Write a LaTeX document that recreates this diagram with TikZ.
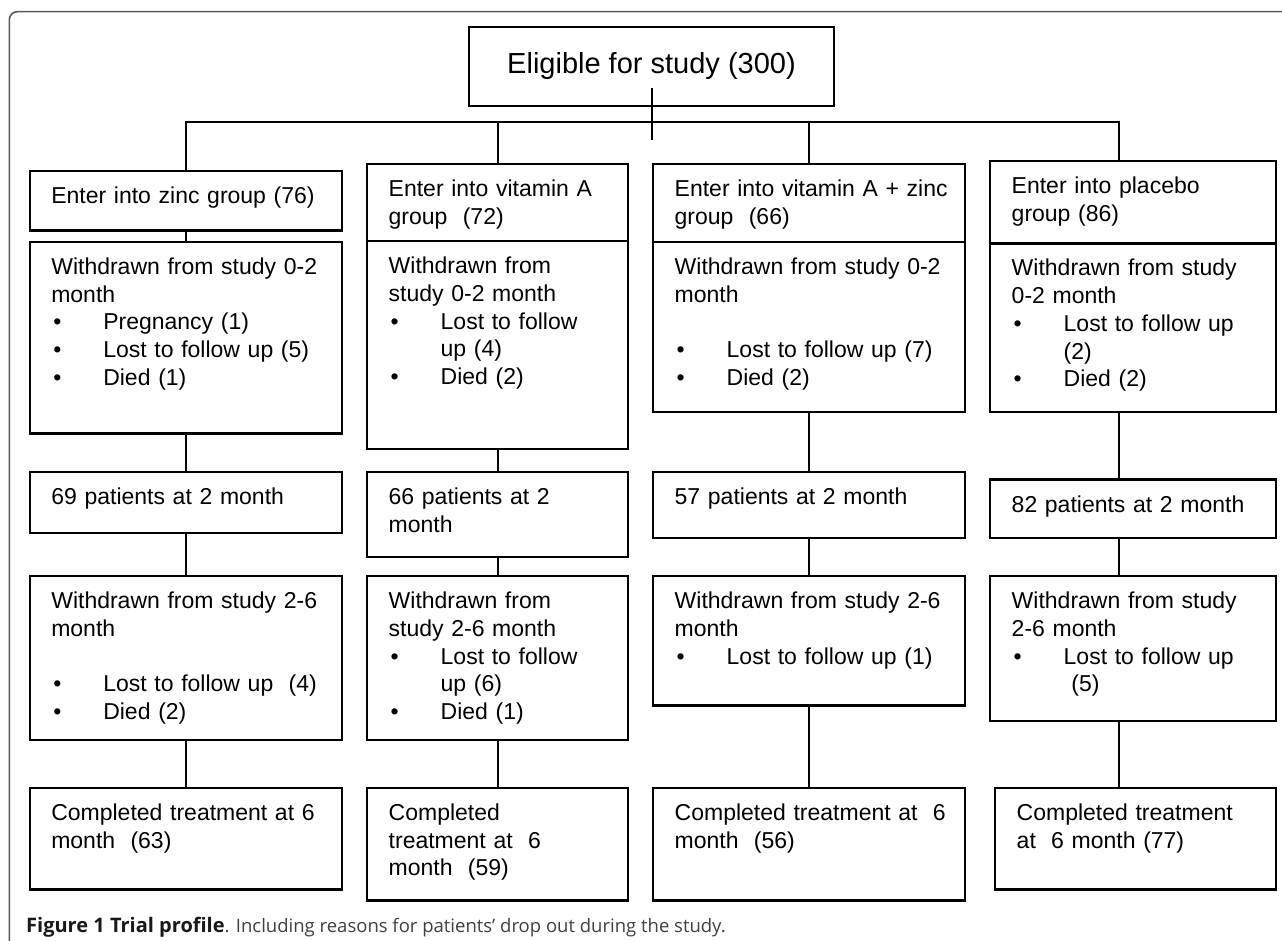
\documentclass[tikz,border=0pt]{standalone}
\usepackage{fontspec}
\setmainfont{Liberation Sans}
\newfontfamily\capfont{Open Sans}

\newcommand{\bul}{\makebox[52pt][l]{\hspace{2pt}\textbullet}}
\newcommand{\ind}{\hspace*{52pt}}

\begin{document}
\begin{tikzpicture}[x = 1pt, y = -1pt,
  every node/.style = {font = \fontsize{23}{27.7}\selectfont},
  cell/.style 2 args = {draw, line width = 2.4pt, anchor = north west, inner xsep = 21.5pt, inner ysep = 0pt,
    align = left, text width = #1, text height = 32.5pt, text depth = #2},
  link/.style = {line width = 2pt},
  frame/.style = {line width = 1.6pt, draw = black!65}]

  \useasboundingbox (0, 0) rectangle (1282, 941);

  % Frame
  \draw[frame, rounded corners = 8pt] (9.3, 941) |- (1282, 11.7);

  % Top box
  \node[draw, line width = 2.4pt, minimum width = 365pt, minimum height = 79pt, font = \fontsize{29}{34}\selectfont] (elig) at (651.5, 66.5) {Eligible for study (300)};
  \coordinate (stem) at (651.5, 140);
  \coordinate (pbr) at (1119, 121.7);

  % Zinc group
  \node[cell = {269.4pt}{26.8pt}] (z1) at (28.6, 170) {Enter into zinc group (76)};
  \node[cell = {269.4pt}{159.1pt}] (z2) at (28.6, 240.7) {Withdrawn from study 0-2\\ month\\ \bul Pregnancy (1)\\ \bul Lost to follow up (5)\\ \bul Died (1)};
  \node[cell = {269.4pt}{28.2pt}] (z3) at (28.6, 471) {69 patients at 2 month};
  \node[cell = {269.4pt}{131.5pt}] (z4) at (28.6, 575) {Withdrawn from study 2-6\\ month\\[27.7pt] \bul Lost to follow up~~(4)\\ \bul Died (2)};
  \node[cell = {269.4pt}{69.1pt}] (z5) at (28.6, 786.7) {Completed treatment at 6\\ month~~(63)};

  % Vitamin A group
  \node[cell = {218pt}{44.8pt}] (a1) at (366, 162.7) {Enter into vitamin A\\ group~~(72)};
  \node[cell = {218pt}{175.2pt}] (a2) at (366, 240) {Withdrawn from\\ study 0-2 month\\ \bul Lost to follow\\ \ind up (4)\\ \bul Died (2)};
  \node[cell = {218pt}{52.2pt}] (a3) at (366, 471) {66 patients at 2\\ month};
  \node[cell = {218pt}{131.5pt}] (a4) at (366, 575) {Withdrawn from\\ study 2-6 month\\ \bul Lost to follow\\ \ind up (6)\\ \bul Died (1)};
  \node[cell = {218pt}{80.1pt}] (a5) at (366, 786.7) {Completed\\ treatment at~~6\\ month~~(59)};

  % Vitamin A + zinc group
  \node[cell = {268.5pt}{45.5pt}] (c1) at (652, 162.7) {\mbox{Enter into vitamin A + zinc}\\ group~~(66)};
  \node[cell = {268.5pt}{137.5pt}] (c2) at (652, 240.7) {Withdrawn from study 0-2\\ month\\[27.7pt] \bul Lost to follow up (7)\\ \bul Died (2)};
  \node[cell = {268.5pt}{33.2pt}] (c3) at (652, 471) {57 patients at 2 month};
  \node[cell = {268.5pt}{96.8pt}] (c4) at (652, 575) {Withdrawn from study 2-6\\ month\\ \bul Lost to follow up (1)};
  \node[cell = {268.5pt}{80.1pt}] (c5) at (652, 786.7) {\mbox{Completed treatment at~~6}\\ month~~(56)};

  % Placebo group
  \node[cell = {242.7pt}{49.8pt}] (p1) at (989, 160) {Enter into placebo\\ group (86)};
  \node[cell = {242.7pt}{135.9pt}] (p2) at (989, 242.3) {Withdrawn from study\\ 0-2 month\\ \bul Lost to follow up\\ \ind (2)\\ \bul Died (2)};
  \node[cell = {242.7pt}{25.9pt}] (p3) at (989, 478.3) {82 patients at 2 month};
  \node[cell = {242.7pt}{112.5pt}] (p4) at (989, 575) {Withdrawn from study\\ 2-6 month\\ \bul Lost to follow up\\ \ind\ (5)};
  \node[cell = {237.7pt}{69.1pt}] (p5) at (994, 786.7) {Completed treatment\\ at~~6 month (77)};

  % Connectors
  \draw[link] ([yshift = 19pt]elig.south) -- (stem);
  \draw[link] (z1.north) |- (pbr) -- (pbr |- p1.north);
  \draw[link] (a1.north) -- (a1.north |- pbr);
  \draw[link] (c1.north) -- (c1.north |- pbr);

  \draw[link] (z1) -- (z2);
  \draw[link] (z2) -- (z3);
  \draw[link] (z3) -- (z4);
  \draw[link] (z4) -- (z5);

  \draw[link] (a2) -- (a3);
  \draw[link] (a3) -- (a4);
  \draw[link] (a4) -- (a5);

  \draw[link] (c2) -- (c3);
  \draw[link] (c3) -- (c4);
  \draw[link] (c4) -- (c5);

  \draw[link] (p2.south -| pbr) -- (p3.north -| pbr);
  \draw[link] (p3.south -| pbr) -- (p4.north -| pbr);
  \draw[link] (p4.south -| pbr) -- (p5.north -| pbr);

  % Caption
  \node[anchor = base west, inner sep = 0pt, font = \capfont\fontsize{18.5}{22}\selectfont, text = black!75] (caption) at (26, 932)
    {\textcolor{black!90}{\fontsize{20}{22}\selectfont\textbf{Figure 1 Trial profile}}. Including reasons for patients’ drop out during the study.};

\end{tikzpicture}
\end{document}
